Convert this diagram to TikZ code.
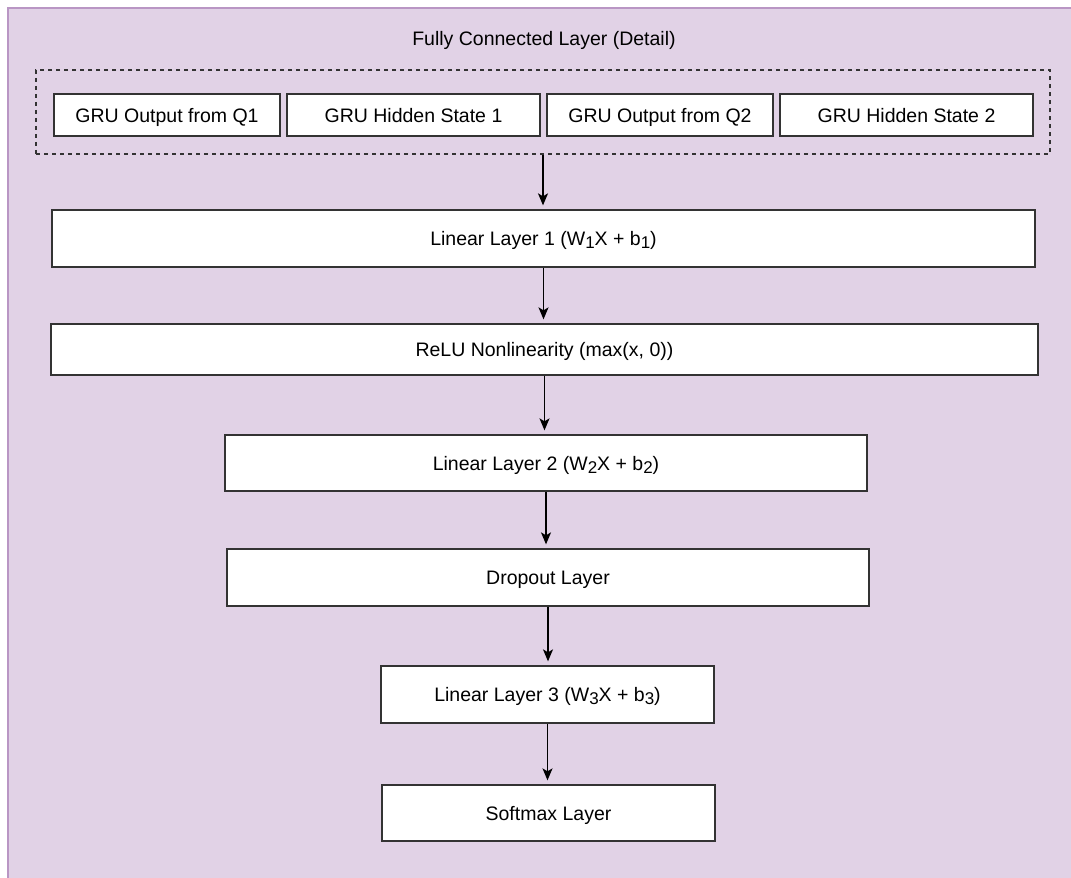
\documentclass[tikz,border=0pt]{standalone}
\usepackage{fontspec}
\setmainfont{Liberation Sans}
\usetikzlibrary{arrows.meta}
\definecolor{panelfill}{HTML}{E1D2E6}
\definecolor{panelline}{HTML}{B996C4}
\definecolor{boxline}{HTML}{333333}
\newcommand{\lsub}[1]{\raisebox{-0.3ex}{\fontsize{17}{17}\selectfont #1}}
\tikzset{
  label text/.style={font=\fontsize{19.5}{22}\selectfont, text=black,
    text height=14pt, text depth=0pt},
  layer/.style={label text, draw=boxline, line width=1.3pt, fill=white, inner sep=0pt},
  group/.style={draw=boxline, line width=1.3pt, dash pattern=on 4pt off 4pt, inner sep=0pt},
  flow/.style={draw=black, line width=1.4pt, -{Stealth[length=12pt,width=10pt,inset=3pt]}, shorten >=4pt},
}
\begin{document}
\begin{tikzpicture}[x=1pt, y=-1pt]
  \clip (0,0) rectangle (1071,878);
  \useasboundingbox (0,0) rectangle (1071,878);
  % outer panel (runs off the right and bottom edges)
  \draw[fill=panelfill, draw=panelline, line width=1.5pt] (8,8) rectangle (1100,900);
  \node[label text, inner sep=0pt] (title) at (544,38) {Fully Connected Layer (Detail)};

  % grouped inputs
  \node[group, minimum width=1014pt, minimum height=84pt] (inputs) at (543,112) {};
  \node[layer, minimum width=226pt, minimum height=42pt] (gq1) at (167,115) {GRU Output from Q1};
  \node[layer, minimum width=253pt, minimum height=42pt] (gh1) at (413.5,115) {GRU Hidden State 1};
  \node[layer, minimum width=226pt, minimum height=42pt] (gq2) at (660,115) {GRU Output from Q2};
  \node[layer, minimum width=253pt, minimum height=42pt] (gh2) at (906.5,115) {GRU Hidden State 2};

  % layer stack
  \node[layer, minimum width=983pt, minimum height=57pt] (lin1) at (543.5,238.5) {Linear Layer 1 (W\lsub{1}X + b\lsub{1})};
  \node[layer, minimum width=987pt, minimum height=51pt] (relu) at (544.5,349.5) {ReLU Nonlinearity (max(x, 0))};
  \node[layer, minimum width=642pt, minimum height=56pt] (lin2) at (546,463) {Linear Layer 2 (W\lsub{2}X + b\lsub{2})};
  \node[layer, minimum width=642pt, minimum height=57pt] (drop) at (548,577.5) {Dropout Layer};
  \node[layer, minimum width=333pt, minimum height=57pt] (lin3) at (547.5,694.5) {Linear Layer 3 (W\lsub{3}X + b\lsub{3})};
  \node[layer, minimum width=333pt, minimum height=56pt] (soft) at (548.5,813) {Softmax Layer};

  % connectors
  \draw[flow] (inputs.south) -- (inputs.south |- lin1.north);
  \draw[flow] (lin1.south) -- (lin1.south |- relu.north);
  \draw[flow] (relu.south) -- (relu.south |- lin2.north);
  \draw[flow] (lin2.south) -- (lin2.south |- drop.north);
  \draw[flow] (drop.south) -- (drop.south |- lin3.north);
  \draw[flow] (lin3.south) -- (lin3.south |- soft.north);
\end{tikzpicture}
\end{document}
